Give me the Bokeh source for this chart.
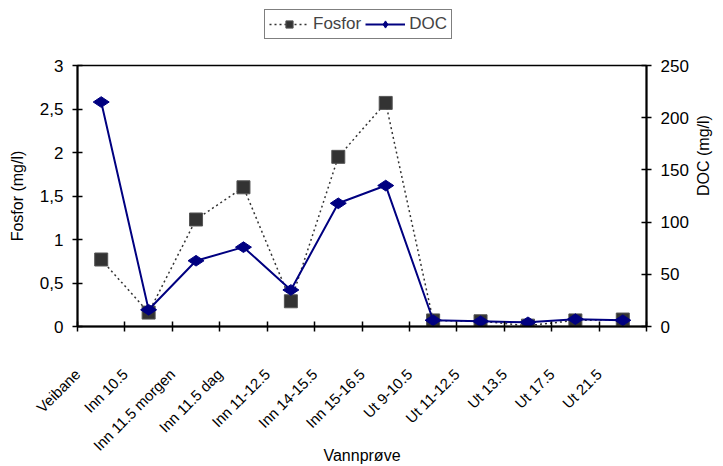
from bokeh.plotting import figure
from bokeh.layouts import column
from bokeh.models import (Range1d, LinearAxis, FixedTicker, CustomJSTickFormatter,
                          Legend, LegendItem, ColumnDataSource)
from bokeh.embed import file_html
from bokeh.resources import INLINE

categories = ["Veibane", "Inn 10.5", "Inn 11.5 morgen", "Inn 11.5 dag", "Inn 11-12.5",
              "Inn 14-15.5", "Inn 15-16.5", "Ut 9-10.5", "Ut 11-12.5", "Ut 13.5",
              "Ut 17.5", "Ut 21.5"]
fosfor = [0.77, 0.16, 1.23, 1.60, 0.29, 1.95, 2.57, 0.07, 0.06, 0.01, 0.07, 0.08]
doc = [215, 16, 63, 76, 35, 118, 135, 6, 5, 4, 7, 6]
left_ticks = [0, 0.5, 1, 1.5, 2, 2.5, 3]
right_ticks = [0, 50, 100, 150, 200, 250]

FONT = "Liberation Sans"
W, H = 723, 466
LEG_H = 55
LEFT = 77
n = len(categories)
xs = [i + 0.5 for i in range(n)]
src = ColumnDataSource(dict(x=xs, fosfor=fosfor, doc=doc))

FOS_LINE = dict(line_color="#333333", line_width=1.5, line_dash="2 3")
FOS_MARK = dict(marker="square", size=13, fill_color="#333333", line_color="#555555", line_width=1)
DOC_LINE = dict(line_color="#000080", line_width=2)
DOC_MARK = dict(marker="diamond", angle=1.5708, size=16, fill_color="#000080", line_color="#000080")

# ---------------- main chart ----------------
p = figure(width=W, height=H - LEG_H, output_backend="svg", toolbar_location=None,
           x_range=Range1d(0, n), y_range=Range1d(left_ticks[0], left_ticks[-1]),
           min_border_left=LEFT, min_border_right=74, min_border_top=10, min_border_bottom=140)
p.extra_y_ranges = {"doc": Range1d(right_ticks[0], right_ticks[-1])}
p.xgrid.visible = False
p.ygrid.visible = False
p.outline_line_color = "black"
p.outline_line_width = 1.5
p.background_fill_color = "white"
p.border_fill_color = "white"

comma = CustomJSTickFormatter(code="return tick.toString().replace('.', ',');")

ya = p.yaxis[0]
ya.ticker = FixedTicker(ticks=left_ticks)
ya.formatter = comma
ya.axis_label = "Fosfor (mg/l)"
ya.major_label_standoff = 9
ya.axis_label_standoff = 11

ra = LinearAxis(y_range_name="doc", ticker=FixedTicker(ticks=right_ticks), axis_label="DOC (mg/l)")
ra.major_label_standoff = 9
ra.axis_label_standoff = 12
if "axis_label_orientation" in ra.properties():
    ra.axis_label_orientation = 1.5708  # read bottom-to-top like the reference
p.add_layout(ra, "right")

xa = p.xaxis[0]
xa.ticker = FixedTicker(ticks=list(range(n + 1)))
xa.major_label_overrides = {i: categories[i] for i in range(n)} | {n: ""}
xa.major_label_orientation = 0.785398
xa.axis_label = "Vannprøve"
xa.major_label_standoff = 40
xa.axis_label_standoff = -16

for ax in (ya, ra, xa):
    ax.axis_line_width = 2
    ax.axis_line_color = "black"
    ax.major_tick_line_width = 1.5
    ax.major_tick_line_color = "black"
    ax.major_tick_in = 5
    ax.major_tick_out = 5
    ax.minor_tick_line_color = None
    ax.major_label_text_font = FONT
    ax.major_label_text_font_size = "17px"
    ax.major_label_text_color = "black"
    ax.axis_label_text_font = FONT
    ax.axis_label_text_font_size = "16px"
    ax.axis_label_text_font_style = "normal"
    ax.axis_label_text_color = "black"
xa.major_label_text_font_size = "15px"

p.line("x", "fosfor", source=src, **FOS_LINE)
p.scatter("x", "fosfor", source=src, **FOS_MARK)
p.line("x", "doc", source=src, y_range_name="doc", **DOC_LINE)
p.scatter("x", "doc", source=src, y_range_name="doc", **DOC_MARK)

# ---------------- legend strip above the chart ----------------
leg = figure(width=W, height=LEG_H, output_backend="svg", toolbar_location=None,
             x_range=Range1d(0, n), y_range=Range1d(-2, -1), min_border=0,
             x_axis_location=None, y_axis_location=None)
leg.grid.visible = False
leg.outline_line_color = None
leg.background_fill_color = "white"
leg.border_fill_color = "white"
# same series, drawn outside the strip's visible range: only their legend swatches show
fl = leg.line("x", "fosfor", source=src, **FOS_LINE)
fs = leg.scatter("x", "fosfor", source=src, **FOS_MARK)
dl = leg.line("x", "doc", source=src, **DOC_LINE)
ds = leg.scatter("x", "doc", source=src, **DOC_MARK)

# the strip's frame is aligned with the chart's frame (left edge at LEFT)
legend = Legend(items=[LegendItem(label="Fosfor", renderers=[fl, fs]),
                       LegendItem(label="DOC", renderers=[dl, ds])],
                orientation="horizontal", location=(264 - LEFT, LEG_H - 39), margin=0,
                padding=4, spacing=4, glyph_width=40, glyph_height=18, label_standoff=4,
                label_text_font=FONT, label_text_font_size="17px",
                border_line_color="black", border_line_width=1.5,
                background_fill_color="white", background_fill_alpha=1)
leg.add_layout(legend, "center")

page = column(leg, p, spacing=0)
open("out.html", "w").write(file_html(page, INLINE))
